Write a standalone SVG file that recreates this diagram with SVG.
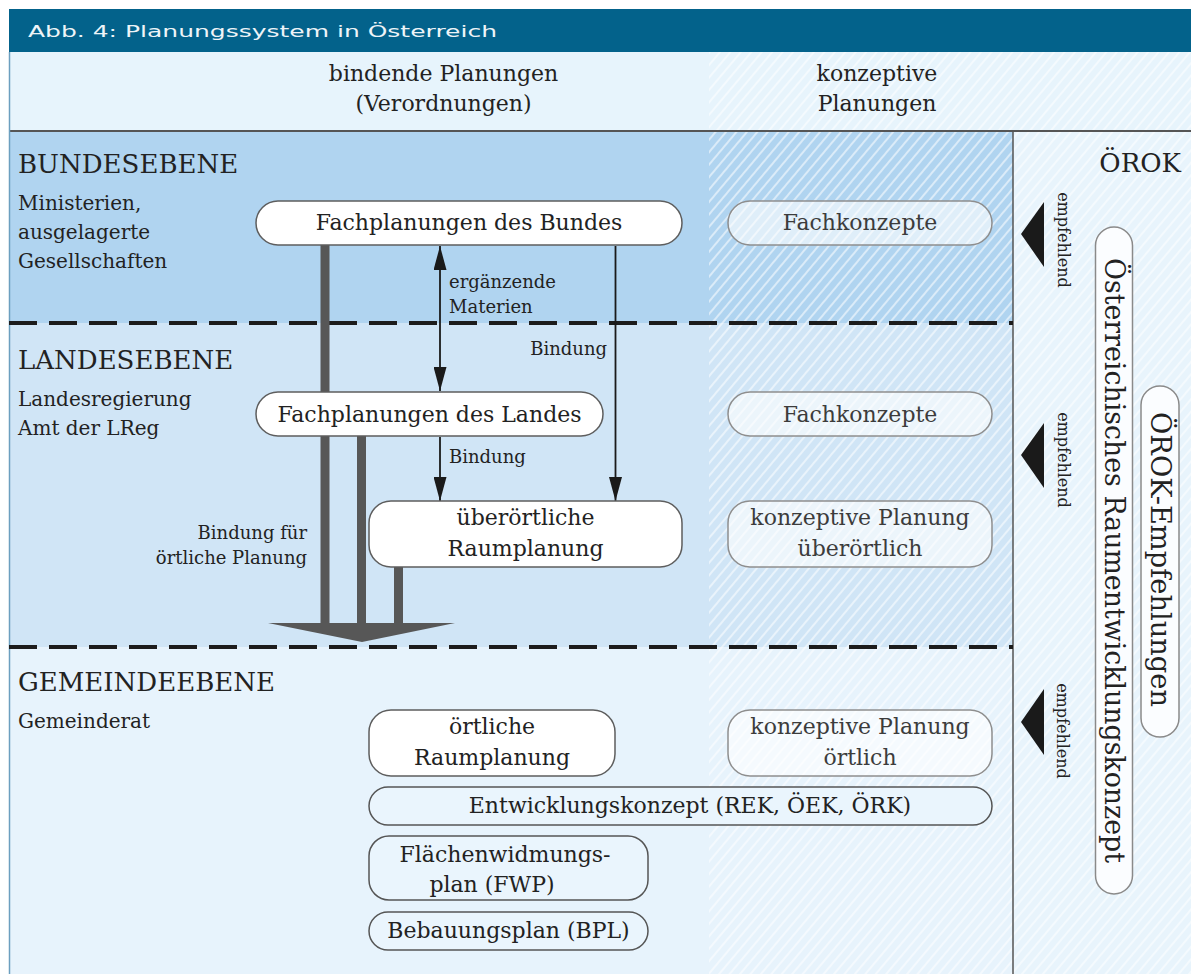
<svg xmlns="http://www.w3.org/2000/svg" width="1191" height="974" viewBox="0 0 1191 974">
<style>
  .t { font-family: "DejaVu Serif", "Liberation Serif", serif; fill: #222; }
  .box { font-size: 22px; text-anchor: middle; }
  .lvl { font-size: 26px; }
  .sub { font-size: 20px; }
  .lab { font-size: 18px; }
  .emp { font-size: 16px; text-anchor: middle; }
  .bind { fill: #ffffff; stroke: #5e5e5e; stroke-width: 1.5; }
  .konz { fill: #ffffff; fill-opacity: 0.6; stroke: #8e8e8e; stroke-width: 1.5; }
  .gem { fill: #eaf5fd; stroke: #555; stroke-width: 1.5; }
  .kt { fill: #3c3c3c; }
  .dash { stroke: #1c1c1c; stroke-width: 4; stroke-dasharray: 28 12; fill: none; }
  .bar { stroke: #575757; stroke-width: 9; }
  .arr { stroke: #1a1a1a; stroke-width: 1.8; fill: none; }
  .pill { fill: #fbfdff; stroke: #8a8a8a; stroke-width: 1.5; }
</style>
<defs>
  <pattern id="hatch" width="8" height="8" patternUnits="userSpaceOnUse" patternTransform="rotate(40)">
    <line x1="1" y1="0" x2="1" y2="8" stroke="#ffffff" stroke-width="1.2" stroke-opacity="0.9"/>
  </pattern>
  <marker id="ah" viewBox="0 0 24 13" markerWidth="24" markerHeight="13" refX="24" refY="6.5" markerUnits="userSpaceOnUse" orient="auto-start-reverse">
    <path d="M0,0 L24,6.5 L0,13 z" fill="#1a1a1a"/>
  </marker>
</defs>

<!-- background bands -->
<rect x="0" y="0" width="1191" height="974" fill="#ffffff"/>
<rect x="9" y="9" width="1182" height="43" fill="#03628b"/>
<rect x="9" y="52" width="1182" height="79" fill="#e7f4fc"/>
<rect x="9" y="131" width="1004" height="192" fill="#b0d4f0"/>
<rect x="9" y="323" width="1004" height="324" fill="#d0e5f6"/>
<rect x="9" y="647" width="1004" height="327" fill="#e7f3fc"/>
<rect x="1013" y="131" width="178" height="843" fill="#e8f4fc"/>
<rect x="709" y="52" width="482" height="922" fill="url(#hatch)"/>
<line x1="9" y1="131" x2="1191" y2="131" stroke="#555" stroke-width="2"/>
<line x1="1013" y1="131" x2="1013" y2="974" stroke="#555" stroke-width="1.5"/>
<line x1="9.5" y1="52" x2="9.5" y2="974" stroke="#6c9fbf" stroke-width="1.5"/>
<line class="dash" x1="9" y1="323" x2="1013" y2="323"/>
<line class="dash" x1="9" y1="647" x2="1013" y2="647"/>

<!-- title -->
<text x="28" y="37" font-family="DejaVu Sans, Liberation Sans, sans-serif" font-size="15" fill="#eef4f8" textLength="469" lengthAdjust="spacingAndGlyphs">Abb. 4: Planungssystem in Österreich</text>

<!-- header texts -->
<g id="header">
  <text class="t box" x="443.5" y="81">bindende Planungen</text>
  <text class="t box" x="443.5" y="111">(Verordnungen)</text>
  <text class="t box" x="877" y="81">konzeptive</text>
  <text class="t box" x="877" y="111">Planungen</text>
</g>

<!-- level labels -->
<g id="level-bund">
  <text class="t lvl" x="18" y="173">BUNDESEBENE</text>
  <text class="t sub" x="18" y="210">Ministerien,</text>
  <text class="t sub" x="18" y="239">ausgelagerte</text>
  <text class="t sub" x="18" y="268">Gesellschaften</text>
</g>
<g id="level-land">
  <text class="t lvl" x="18" y="369">LANDESEBENE</text>
  <text class="t sub" x="18" y="406">Landesregierung</text>
  <text class="t sub" x="18" y="435">Amt der LReg</text>
</g>
<g id="level-gemeinde">
  <text class="t lvl" x="18" y="691">GEMEINDEEBENE</text>
  <text class="t sub" x="18" y="728">Gemeinderat</text>
</g>

<!-- connectors -->
<g id="connectors">
  <line class="bar" x1="325" y1="245" x2="325" y2="624"/>
  <line class="bar" x1="361.5" y1="436" x2="361.5" y2="624"/>
  <line class="bar" x1="398.5" y1="567" x2="398.5" y2="624"/>
  <polygon points="268,623 455,623 362,642" fill="#575757"/>
  <line class="arr" x1="440" y1="246" x2="440" y2="391" marker-start="url(#ah)" marker-end="url(#ah)"/>
  <line class="arr" x1="440" y1="437" x2="440" y2="501" marker-end="url(#ah)"/>
  <line class="arr" x1="615.5" y1="246" x2="615.5" y2="501" marker-end="url(#ah)"/>
  <text class="t lab" x="449" y="288">ergänzende</text>
  <text class="t lab" x="449" y="313">Materien</text>
  <text class="t lab" x="607" y="355" text-anchor="end">Bindung</text>
  <text class="t lab" x="449" y="463">Bindung</text>
  <text class="t lab" x="307" y="539" text-anchor="end">Bindung für</text>
  <text class="t lab" x="307" y="564" text-anchor="end">örtliche Planung</text>
  <polygon points="1021,234 1044,202 1044,267" fill="#1a1a1a"/>
  <polygon points="1021,455 1044,423 1044,488" fill="#1a1a1a"/>
  <polygon points="1021,722 1044,689 1044,755" fill="#1a1a1a"/>
  <text class="t emp" transform="translate(1064,240) rotate(90)" dy="0.35em">empfehlend</text>
  <text class="t emp" transform="translate(1064,460) rotate(90)" dy="0.35em">empfehlend</text>
  <text class="t emp" transform="translate(1063,731) rotate(90)" dy="0.35em">empfehlend</text>
</g>

<!-- nodes -->
<g id="fach-bund">
  <rect class="bind" x="256" y="201" width="426" height="44" rx="22"/>
  <text class="t box" x="469" y="230">Fachplanungen des Bundes</text>
</g>
<g id="fachkonzepte-bund">
  <rect class="konz" x="728" y="201" width="264" height="44" rx="22"/>
  <text class="t box kt" x="860" y="230">Fachkonzepte</text>
</g>
<g id="fach-land">
  <rect class="bind" x="256" y="392" width="347" height="44" rx="22"/>
  <text class="t box" x="429.5" y="422">Fachplanungen des Landes</text>
</g>
<g id="fachkonzepte-land">
  <rect class="konz" x="728" y="392" width="264" height="44" rx="22"/>
  <text class="t box kt" x="860" y="422">Fachkonzepte</text>
</g>
<g id="ueberoertlich">
  <rect class="bind" x="369" y="501" width="313" height="66" rx="22"/>
  <text class="t box" x="525.5" y="525">überörtliche</text>
  <text class="t box" x="525.5" y="556">Raumplanung</text>
</g>
<g id="konz-ueberoertlich">
  <rect class="konz" x="728" y="501" width="264" height="66" rx="22"/>
  <text class="t box kt" x="860" y="525">konzeptive Planung</text>
  <text class="t box kt" x="860" y="556">überörtlich</text>
</g>
<g id="oertlich">
  <rect class="bind" x="369" y="710" width="246" height="66" rx="22"/>
  <text class="t box" x="492" y="734">örtliche</text>
  <text class="t box" x="492" y="765">Raumplanung</text>
</g>
<g id="konz-oertlich">
  <rect class="konz" x="728" y="710" width="264" height="66" rx="22"/>
  <text class="t box kt" x="860" y="734">konzeptive Planung</text>
  <text class="t box kt" x="860" y="765">örtlich</text>
</g>
<g id="entwicklungskonzept">
  <rect class="gem" x="369" y="787" width="623" height="38" rx="19"/>
  <text class="t box" x="690" y="813">Entwicklungskonzept (REK, ÖEK, ÖRK)</text>
</g>
<g id="fwp">
  <rect class="gem" x="369" y="836" width="279" height="64" rx="20"/>
  <text class="t box" x="505" y="862">Flächenwidmungs-</text>
  <text class="t box" x="492" y="892">plan (FWP)</text>
</g>
<g id="bpl">
  <rect class="gem" x="369" y="912" width="279" height="38" rx="19"/>
  <text class="t box" x="508.5" y="938">Bebauungsplan (BPL)</text>
</g>
<g id="oerok">
  <text class="t lvl" x="1181" y="172" text-anchor="end">ÖROK</text>
</g>
<g id="oerek">
  <rect class="pill" x="1095.5" y="227" width="37" height="667" rx="18.5"/>
  <text class="t" font-size="27" text-anchor="middle" transform="translate(1114,560.5) rotate(90)" dy="0.35em" textLength="605" lengthAdjust="spacingAndGlyphs">Österreichisches Raumentwicklungskonzept</text>
</g>
<g id="oerok-empf">
  <rect class="pill" x="1141" y="386" width="38" height="351" rx="19"/>
  <text class="t" font-size="27" text-anchor="middle" transform="translate(1160,559.5) rotate(90)" dy="0.35em" textLength="295" lengthAdjust="spacingAndGlyphs">ÖROK-Empfehlungen</text>
</g>
</svg>
